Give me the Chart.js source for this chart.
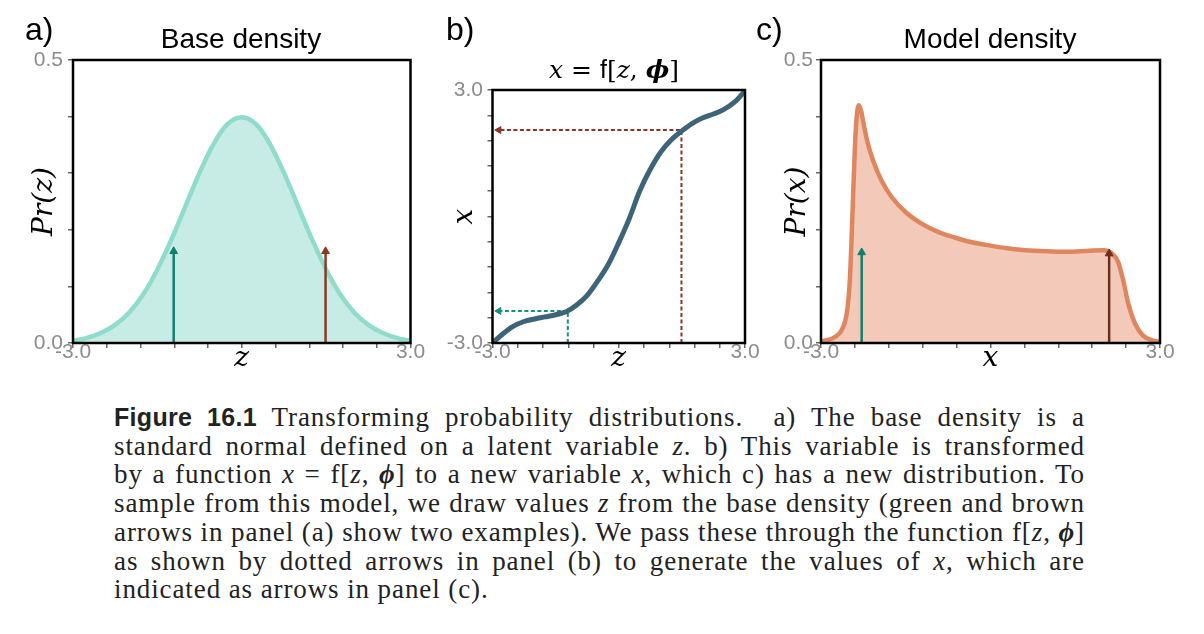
<!DOCTYPE html>
<html>
<head>
<meta charset="utf-8">
<script src="https://cdn.jsdelivr.net/npm/chart.js@4.4.1/dist/chart.umd.min.js"></script>
<style>
  body { margin: 0; background: #fff; }
  #fig { position: relative; width: 1204px; height: 634px; overflow: hidden; background: #fff; }
  #fig canvas { position: absolute; top: 0; }
  .lbl { position: absolute; line-height: 1; white-space: nowrap; font-family: "Liberation Sans", Arial, sans-serif; color: #000; }
  .ctr { transform: translateX(-50%); }
  .math { font-family: "DejaVu Serif", serif; font-style: italic; }
  .up { font-style: normal; }
  #caption { position: absolute; left: 114px; top: 403px; width: 971px; font-family: "Liberation Serif", serif; font-size: 27px; letter-spacing: 0.9px; line-height: 28.7px; color: #222; }
  #caption div { text-align: justify; text-align-last: justify; }
  #caption div.last { text-align-last: left; }
  #caption .fig { font-family: "Liberation Sans", Arial, sans-serif; font-weight: bold; font-size: 25px; letter-spacing: 0.3px; color: #222; }
  #caption i { font-style: italic; }
</style>
</head>
<body>
<div id="fig">
  <canvas id="panelA" width="440" height="390" style="left:0px"></canvas>
  <canvas id="panelB" width="370" height="390" style="left:420px"></canvas>
  <canvas id="panelC" width="444" height="390" style="left:760px"></canvas>

  <div class="lbl" style="left:25px; top:13px; font-size:32px;">a)</div>
  <div class="lbl" style="left:446px; top:13px; font-size:32px;">b)</div>
  <div class="lbl" style="left:756px; top:13px; font-size:32px;">c)</div>

  <div class="lbl ctr" style="left:241px; top:25px; font-size:28px;">Base density</div>
  <div class="lbl ctr math" style="left:614px; top:57px; font-size:25px;">x <span class="up">=</span> <span class="up" style="font-family:'Liberation Sans',sans-serif;">f</span><span class="up">[</span>z<span class="up">,</span> <b>ϕ</b><span class="up">]</span></div>
  <div class="lbl ctr" style="left:990px; top:25px; font-size:28px;">Model density</div>

  <div id="caption">
    <div><b class="fig">Figure 16.1</b> Transforming probability distributions.&nbsp; a) The base density is a</div>
    <div>standard normal defined on a latent variable <i>z</i>. b) This variable is transformed</div>
    <div>by a function <i>x</i> = f[<i>z</i>, <b><i>ϕ</i></b>] to a new variable <i>x</i>, which c) has a new distribution. To</div>
    <div>sample from this model, we draw values <i>z</i> from the base density (green and brown</div>
    <div>arrows in panel (a) show two examples). We pass these through the function f[<i>z</i>, <b><i>ϕ</i></b>]</div>
    <div>as shown by dotted arrows in panel (b) to generate the values of <i>x</i>, which are</div>
    <div class="last">indicated as arrows in panel (c).</div>
  </div>
</div>

<script>
// ---- data ----
// a) base density Pr(z), sampled every 0.25
const zGrid = [-3, -2.75, -2.5, -2.25, -2, -1.75, -1.5, -1.25, -1, -0.75, -0.5, -0.25, 0,
               0.25, 0.5, 0.75, 1, 1.25, 1.5, 1.75, 2, 2.25, 2.5, 2.75, 3];
const baseDensity = [0.004, 0.009, 0.018, 0.032, 0.054, 0.086, 0.130, 0.183, 0.242, 0.301, 0.352, 0.387, 0.399,
                     0.387, 0.352, 0.301, 0.242, 0.183, 0.130, 0.086, 0.054, 0.032, 0.018, 0.009, 0.004];

// b) transform x = f[z, phi] at the same z values
const flowX = [-3.00, -2.78, -2.60, -2.49, -2.43, -2.38, -2.33, -2.26, -2.10, -1.87, -1.53, -1.14, -0.62,
               -0.05, 0.61, 1.12, 1.53, 1.82, 2.03, 2.21, 2.34, 2.43, 2.54, 2.71, 2.98];

// c) model density Pr(x)
const modelX = [-3.00, -2.85, -2.75, -2.65, -2.58, -2.53, -2.49, -2.46, -2.43, -2.40, -2.37, -2.33, -2.29,
                -2.24, -2.17, -2.08, -1.93, -1.75, -1.50, -1.22, -0.92, -0.62, -0.33, 0.00, 0.33, 0.62,
                0.98, 1.34, 1.75, 2.00, 2.14, 2.26, 2.35, 2.44, 2.56, 2.70, 2.88, 3.00];
const modelDensity = [0.003, 0.006, 0.011, 0.020, 0.036, 0.062, 0.110, 0.180, 0.265, 0.345, 0.398, 0.420, 0.410,
                      0.384, 0.352, 0.323, 0.287, 0.258, 0.231, 0.211, 0.196, 0.186, 0.178, 0.172, 0.167, 0.164,
                      0.162, 0.161, 0.163, 0.164, 0.159, 0.143, 0.110, 0.069, 0.034, 0.013, 0.004, 0.002];

// the two samples (green, brown)
const sampleZ = [-1.21, 1.49];
const sampleTopA = [0.162, 0.162];
const sampleFx = [-2.24, 2.05];
const sampleXc = [-2.28, 2.10];
const sampleTopC = [0.160, 0.158];

// axis ends and their labels
const axisEnds = [-3, 3];
const axisEndLabels = ['-3.0', '3.0'];
const densityEnds = [0, 0.5];
const densityEndLabels = ['0.0', '0.5'];

// ---- styling ----
const tickGray = '#8c8c8c';
const tickFont = { family: 'Liberation Sans', size: 21 };
const mathFont = { family: 'DejaVu Serif', style: 'italic', size: 28, lineHeight: 1 };
const green = '#0f7f6e';
const brown = '#8a3a24';
const darkBrown = '#6c2e1b';

Chart.defaults.font.family = 'Liberation Sans';

function endLabel(v, ends, labels) {
  for (let i = 0; i < ends.length; i++) {
    if (Math.abs(v - ends[i]) < 1e-6) return labels[i];
  }
  return '';
}

function makeScale(o) {
  return {
    type: 'linear',
    min: o.min,
    max: o.max,
    afterFit: (s) => { if (o.horizontal) s.height = o.size; else s.width = o.size; },
    ticks: {
      stepSize: o.step,
      autoSkip: false,
      maxRotation: 0,
      color: tickGray,
      font: tickFont,
      padding: o.tickPad,
      callback: (v) => endLabel(v, o.ends, o.labels),
    },
    grid: { drawOnChartArea: false, drawTicks: true, tickLength: 5, color: '#666', lineWidth: 1.5 },
    border: { display: false },
    title: { display: true, text: o.title, color: '#000', font: mathFont, padding: o.titlePad },
  };
}

const framePlugin = {
  id: 'frame',
  afterDatasetsDraw(chart) {
    const { ctx, chartArea: a } = chart;
    ctx.save();
    ctx.strokeStyle = '#000';
    ctx.lineWidth = 2.5;
    ctx.strokeRect(a.left, a.top, a.right - a.left, a.bottom - a.top);
    ctx.restore();
  },
};

function arrow(xv, y0, y1, color, width) {
  return {
    data: [{ x: xv, y: y0 }, { x: xv, y: y1 }],
    showLine: true,
    borderColor: color,
    borderWidth: width,
    pointRadius: [0, 4.5],
    pointStyle: 'triangle',
    pointBackgroundColor: color,
    pointBorderColor: color,
    pointBorderWidth: 1,
    tension: 0,
  };
}

function dottedArrow(zv, fx, color) {
  return {
    data: [{ x: zv, y: -3 }, { x: zv, y: fx }, { x: -2.85, y: fx }],
    showLine: true,
    borderColor: color,
    borderWidth: 2,
    borderDash: [4, 2.5],
    pointRadius: [0, 0, 4],
    pointStyle: 'triangle',
    pointRotation: 270,
    pointBackgroundColor: color,
    pointBorderColor: color,
    pointBorderWidth: 1,
    tension: 0,
  };
}

function baseOptions(padding, xScale, yScale) {
  return {
    responsive: false,
    animation: false,
    layout: { padding },
    elements: { point: { radius: 0 } },
    plugins: { legend: { display: false }, tooltip: { enabled: false } },
    scales: { x: xScale, y: yScale },
  };
}

// a) Base density
new Chart(document.getElementById('panelA'), {
  type: 'scatter',
  data: {
    datasets: [
      arrow(sampleZ[0], 0, sampleTopA[0], green, 2.5),
      arrow(sampleZ[1], 0, sampleTopA[1], brown, 2.5),
      {
        data: zGrid.map((z, i) => ({ x: z, y: baseDensity[i] })),
        showLine: true,
        borderColor: '#8fdbcc',
        backgroundColor: '#c6ece5',
        borderWidth: 4.5,
        fill: 'origin',
        cubicInterpolationMode: 'monotone',
      },
    ],
  },
  options: baseOptions(
    { left: 13, top: 60, right: 29.5, bottom: 7 },
    makeScale({ horizontal: true, size: 40, min: -3, max: 3, step: 0.6, ends: axisEnds, labels: axisEndLabels,
                title: 'z', tickPad: -8, titlePad: { top: 0, bottom: 10 } }),
    makeScale({ horizontal: false, size: 60, min: 0, max: 0.5, step: 0.1, ends: densityEnds, labels: densityEndLabels,
                title: 'Pr(z)', tickPad: 5, titlePad: { top: 18, bottom: 0 } })
  ),
  plugins: [framePlugin],
});

// b) x = f[z, phi]
new Chart(document.getElementById('panelB'), {
  type: 'scatter',
  data: {
    datasets: [
      {
        data: zGrid.map((z, i) => ({ x: z, y: flowX[i] })),
        showLine: true,
        borderColor: '#3d6478',
        borderWidth: 5,
        fill: false,
        cubicInterpolationMode: 'monotone',
      },
      dottedArrow(sampleZ[0], sampleFx[0], '#16917c'),
      dottedArrow(sampleZ[1], sampleFx[1], '#8a3422'),
    ],
  },
  options: baseOptions(
    { left: 22.5, top: 90, right: 45, bottom: 7 },
    makeScale({ horizontal: true, size: 40, min: -3, max: 3, step: 0.6, ends: axisEnds, labels: axisEndLabels,
                title: 'z', tickPad: -8, titlePad: { top: 0, bottom: 10 } }),
    makeScale({ horizontal: false, size: 50, min: -3, max: 3, step: 0.6, ends: axisEnds, labels: axisEndLabels,
                title: 'x', tickPad: 4.5, titlePad: { top: 8.5, bottom: 0 } })
  ),
  plugins: [framePlugin],
});

// c) Model density
new Chart(document.getElementById('panelC'), {
  type: 'scatter',
  data: {
    datasets: [
      arrow(sampleXc[0], 0, sampleTopC[0], green, 2.5),
      arrow(sampleXc[1], 0, sampleTopC[1], darkBrown, 2.5),
      {
        data: modelX.map((x, i) => ({ x, y: modelDensity[i] })),
        showLine: true,
        borderColor: '#e0865f',
        backgroundColor: '#f3cab9',
        borderWidth: 4.5,
        fill: 'origin',
        cubicInterpolationMode: 'monotone',
      },
    ],
  },
  options: baseOptions(
    { left: 6, top: 60, right: 44, bottom: 7 },
    makeScale({ horizontal: true, size: 40, min: -3, max: 3, step: 0.6, ends: axisEnds, labels: axisEndLabels,
                title: 'x', tickPad: -8, titlePad: { top: 0, bottom: 10 } }),
    makeScale({ horizontal: false, size: 55, min: 0, max: 0.5, step: 0.1, ends: densityEnds, labels: densityEndLabels,
                title: 'Pr(x)', tickPad: 3, titlePad: { top: 18, bottom: 0 } })
  ),
  plugins: [framePlugin],
});
</script>
</body>
</html>
